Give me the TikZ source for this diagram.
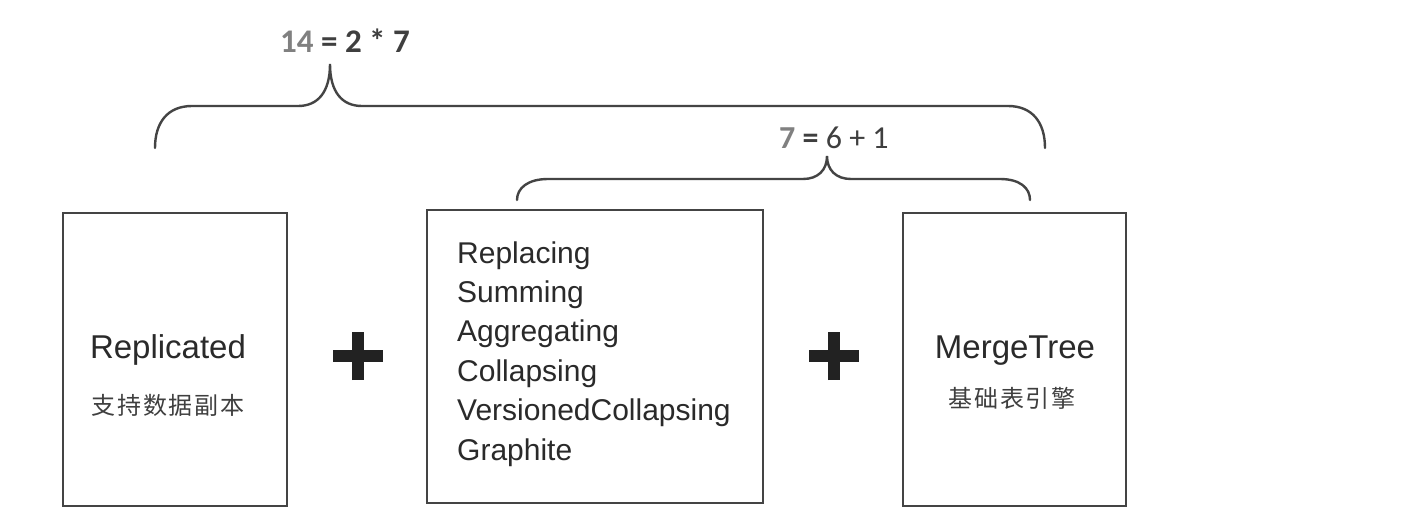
\documentclass[tikz,border=0pt]{standalone}
\usepackage{fontspec}
\setmainfont{Liberation Sans}
\newfontfamily\cjkf{Noto Sans CJK SC}[LetterSpace=8]
\newfontfamily\numf{Carlito}
\definecolor{linec}{HTML}{444444}
\definecolor{textc}{HTML}{2A2A2A}
\definecolor{grayc}{HTML}{808080}
\definecolor{plusc}{HTML}{222222}
\begin{document}
\begin{tikzpicture}[x=1pt,y=-1pt,
  box/.style={draw=linec,line width=2.4pt},
  brace/.style={draw=linec,line width=2.4pt,line cap=round},
  lbl/.style={inner sep=0pt,text=textc,font=\fontsize{33}{36}\selectfont},
  cjk/.style={inner sep=0pt,text=textc!90,font=\fontsize{24}{28}\cjkf},
  item/.style={inner sep=0pt,anchor=base west,text=textc,font=\fontsize{30}{36}\selectfont},
  eq/.style={inner sep=0pt,anchor=base west,text=textc!90,font=\fontsize{33}{36}\numf\bfseries},
  plus/.style={draw=plusc,line width=12pt}]
\useasboundingbox[fill=white] (0,0) rectangle (1416,528);

% boxes
\draw[box] (63,213) rectangle (287,506);
\draw[box] (427,210) rectangle (763,503);
\draw[box] (903,213) rectangle (1126,506);

% box texts
\node[lbl,anchor=base] (rep) at (168,358) {Replicated};
\node[cjk] (repc) at (168,405) {支持数据副本};
\node[lbl,anchor=base] (mt) at (1015,358) {MergeTree};
\node[cjk] (mtc) at (1012,398) {基础表引擎};

\node[item] (l1) at (457,263.0) {Replacing};
\node[item] (l2) at (457,302.4) {Summing};
\node[item] (l3) at (457,341.8) {Aggregating};
\node[item] (l4) at (457,381.2) {Collapsing};
\node[item] (l5) at (457,420.6) {VersionedCollapsing};
\node[item] (l6) at (457,460.0) {Graphite};

% plus signs
\coordinate (p1) at (358,356);
\coordinate (p2) at (834,356);
\draw[plus] ([xshift=-25pt]p1) -- ([xshift=25pt]p1);
\draw[plus] ([yshift=-24pt]p1) -- ([yshift=24pt]p1);
\draw[plus] ([xshift=-25pt]p2) -- ([xshift=25pt]p2);
\draw[plus] ([yshift=-24pt]p2) -- ([yshift=24pt]p2);

% top brace
\draw[brace] (155,148) .. controls (155,122) and (168,106) .. (192,106)
  -- (298,106) .. controls (318,106) and (330,92) .. (330,64)
  .. controls (330,92) and (342,106) .. (362,106)
  -- (1008,106) .. controls (1032,106) and (1045,122) .. (1045,148);
\node[eq] (e1) at (280,52) {\textcolor{grayc}{14} = 2 * 7};

% lower brace
\draw[brace] (517,200) .. controls (517,188) and (528,179) .. (548,179)
  -- (803,179) .. controls (818,179) and (827,170) .. (827,156)
  .. controls (827,170) and (836,179) .. (851,179)
  -- (1000,179) .. controls (1020,179) and (1030,188) .. (1030,200);
\node[eq,font=\fontsize{32}{36}\numf] (e2) at (779,148) {\textbf{\textcolor{grayc}{7} =} 6 + 1};
\end{tikzpicture}
\end{document}
